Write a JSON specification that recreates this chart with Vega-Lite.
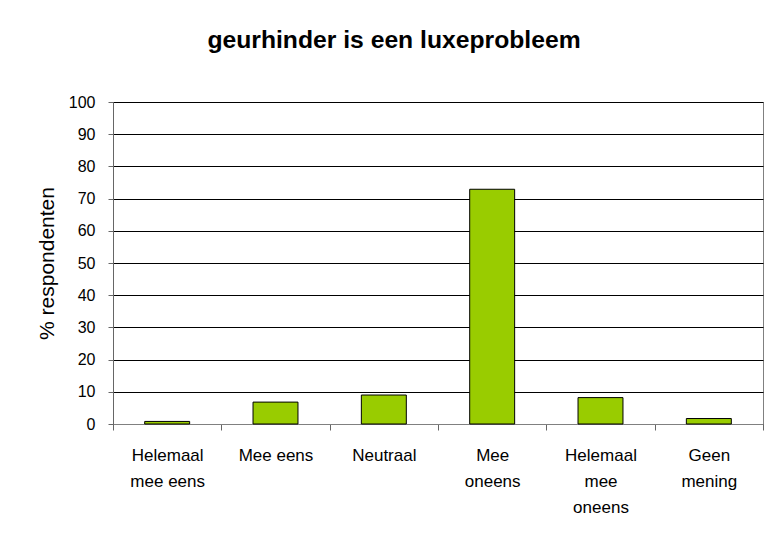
{
  "$schema": "https://vega.github.io/schema/vega-lite/v6.json",
  "autosize": {"type": "none"},
  "width": 650,
  "height": 322,
  "padding": {"left": 113, "top": 102, "right": 1, "bottom": 109},
  "background": "white",
  "title": {
    "text": "geurhinder is een luxeprobleem",
    "font": "Liberation Sans",
    "fontSize": 24.7,
    "fontWeight": "bold",
    "color": "black",
    "anchor": "middle",
    "baseline": "alphabetic",
    "offset": 21,
    "dx": -44
  },
  "data": {
    "values": [
      {"antwoord": "Helemaal mee eens", "pct": 0.8},
      {"antwoord": "Mee eens", "pct": 6.8},
      {"antwoord": "Neutraal", "pct": 9.0},
      {"antwoord": "Mee oneens", "pct": 72.9},
      {"antwoord": "Helemaal mee oneens", "pct": 8.2},
      {"antwoord": "Geen mening", "pct": 1.7}
    ]
  },
  "mark": {
    "type": "bar",
    "fill": "#99CC00",
    "stroke": "black",
    "strokeWidth": 1,
    "width": {"band": 0.415}
  },
  "encoding": {
    "x": {
      "field": "antwoord",
      "type": "nominal",
      "sort": null,
      "scale": {"paddingInner": 0, "paddingOuter": 0},
      "axis": {
        "title": null,
        "labelAngle": 0,
        "labelFont": "Liberation Sans",
        "labelFontSize": 17,
        "labelColor": "black",
        "labelLineHeight": 26,
        "labelPadding": 17,
        "labelBaseline": "top",
        "labelExpr": "datum.label == 'Helemaal mee eens' ? ['Helemaal', 'mee eens'] : datum.label == 'Mee oneens' ? ['Mee', 'oneens'] : datum.label == 'Helemaal mee oneens' ? ['Helemaal', 'mee', 'oneens'] : datum.label == 'Geen mening' ? ['Geen', 'mening'] : datum.label",
        "tickBand": "extent",
        "tickSize": 6,
        "tickColor": "#666666",
        "domainColor": "#808080",
        "grid": false
      }
    },
    "y": {
      "field": "pct",
      "type": "quantitative",
      "scale": {"domain": [0, 100], "nice": false},
      "axis": {
        "title": "% respondenten",
        "titleFont": "Liberation Sans",
        "titleFontSize": 21,
        "titleFontWeight": "normal",
        "titleColor": "black",
        "titlePadding": 11,
        "values": [0, 10, 20, 30, 40, 50, 60, 70, 80, 90, 100],
        "labelFont": "Liberation Sans",
        "labelFontSize": 16,
        "labelColor": "black",
        "labelPadding": 13,
        "tickSize": 5,
        "tickColor": "#666666",
        "domainColor": "#666666",
        "grid": true,
        "gridColor": "black",
        "gridWidth": 1
      }
    }
  },
  "config": {
    "view": {"stroke": "#808080"}
  }
}
